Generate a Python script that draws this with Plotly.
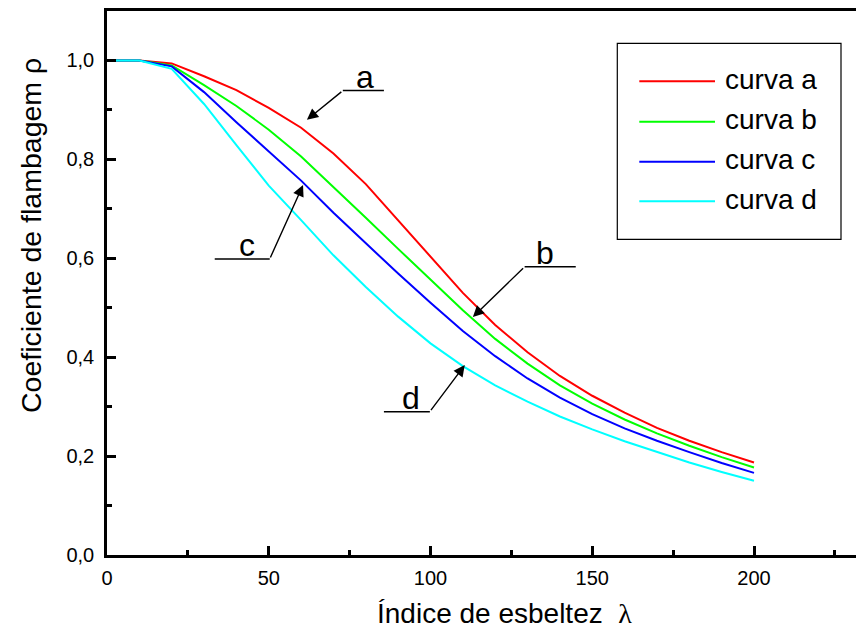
import plotly.graph_objects as go

# ---- data ----
lam = [0, 10, 20, 30, 40, 50, 60, 70, 80, 90, 100, 110, 120, 130, 140, 150, 160, 170, 180, 190, 200]
curva_a = [1.0, 1.0, 0.994, 0.968, 0.940, 0.904, 0.864, 0.812, 0.750, 0.676, 0.602, 0.530, 0.465, 0.410,
           0.362, 0.322, 0.288, 0.257, 0.231, 0.208, 0.187]
curva_b = [1.0, 1.0, 0.990, 0.950, 0.908, 0.860, 0.806, 0.745, 0.682, 0.619, 0.557, 0.495, 0.437, 0.387,
           0.343, 0.306, 0.274, 0.246, 0.221, 0.198, 0.177]
curva_c = [1.0, 1.0, 0.988, 0.936, 0.875, 0.817, 0.757, 0.692, 0.630, 0.569, 0.510, 0.453, 0.402, 0.357,
           0.318, 0.285, 0.256, 0.231, 0.208, 0.186, 0.166]
curva_d = [1.0, 1.0, 0.983, 0.912, 0.829, 0.747, 0.677, 0.606, 0.542, 0.482, 0.428, 0.382, 0.343, 0.310,
           0.280, 0.254, 0.230, 0.208, 0.187, 0.168, 0.150]

series_names = ["curva a", "curva b", "curva c", "curva d"]
series_values = [curva_a, curva_b, curva_c, curva_d]
series_colors = ["#FF0000", "#00FF00", "#0000FF", "#00FFFF"]

x_ticks = [0, 50, 100, 150, 200]
y_ticks = [0.0, 0.2, 0.4, 0.6, 0.8, 1.0]

# curve labels: letter, text pos, underline (x0,x1,y), arrow tail -> head
curve_labels = [
    ("a", (79.7, 0.939), (72.9, 85.6, 0.939), (72.9, 0.939), (61.8, 0.880)),
    ("c", (43.3, 0.5986), (33.3, 50.3, 0.5986), (50.3, 0.5986), (60.6, 0.748)),
    ("b", (135.3, 0.583), (129.1, 144.9, 0.583), (129.1, 0.583), (113.1, 0.481)),
    ("d", (94.1, 0.2898), (85.6, 99.8, 0.2898), (99.8, 0.2898), (110.6, 0.384)),
]

FONT = "Liberation Sans, Arial, sans-serif"

fig = go.Figure()
for name, vals, col in zip(series_names, series_values, series_colors):
    fig.add_trace(go.Scatter(x=lam, y=vals, mode="lines", name=name,
                             line=dict(color=col, width=2), showlegend=False))

# plot geometry (pixels)
L, R, T, B = 107, 856, 11, 555
W, H = 856, 634

def px(xp):
    return (xp - L) / (R - L)

def py(yp):
    return (B - yp) / (B - T)

shapes = []
annotations = []

# curve labels with underline and arrow
for letter, tpos, ul, tail, head in curve_labels:
    shapes.append(dict(type="line", xref="x", yref="y", x0=ul[0], x1=ul[1], y0=ul[2], y1=ul[2],
                       line=dict(color="black", width=1.5)))
    annotations.append(dict(x=tpos[0], y=tpos[1], xref="x", yref="y", text=letter, showarrow=False,
                            xanchor="center", yanchor="bottom", yshift=-6,
                            font=dict(family=FONT, size=32, color="black")))
    annotations.append(dict(x=head[0], y=head[1], xref="x", yref="y", ax=tail[0], ay=tail[1],
                            axref="x", ayref="y", text="", showarrow=True, arrowhead=2,
                            arrowsize=1.6, arrowwidth=1.4, arrowcolor="black", standoff=0))

# custom legend (box + sample lines + labels)
shapes.append(dict(type="rect", xref="paper", yref="paper", x0=px(617.3), x1=px(841), y0=py(239.3), y1=py(43.3),
                   line=dict(color="black", width=1.2), fillcolor="white", layer="below"))
leg_rows = [81.3, 121.7, 161.7, 201.3]
for name, col, yr in zip(series_names, series_colors, leg_rows):
    shapes.append(dict(type="line", xref="paper", yref="paper", x0=px(639.3), x1=px(715), y0=py(yr), y1=py(yr),
                       line=dict(color=col, width=2)))
    annotations.append(dict(x=px(723), y=py(yr), xref="paper", yref="paper", text=name, showarrow=False,
                            xanchor="left", yanchor="middle", yshift=2,
                            font=dict(family=FONT, size=28, color="black")))

# axis titles
annotations.append(dict(x=px(31), y=py(236), xref="paper", yref="paper", textangle=-90,
                        text="Coeficiente de flambagem ρ", showarrow=False,
                        xanchor="center", yanchor="middle", font=dict(family=FONT, size=28.5, color="black")))
annotations.append(dict(x=px(504), y=py(613), xref="paper", yref="paper",
                        text="Índice de esbeltez\u00a0\u00a0<span style=\"font-family:'Liberation Serif', serif\">λ</span>",
                        showarrow=False, xanchor="center", yanchor="middle",
                        font=dict(family=FONT, size=28, color="black")))

x_max = 200 * (R - L) / (754.3 - 107.3)

fig.update_layout(
    width=W, height=H,
    margin=dict(l=L, r=W - R, t=T, b=H - B, pad=0),
    paper_bgcolor="white", plot_bgcolor="white",
    separators=",.",
    shapes=shapes, annotations=annotations,
    showlegend=False,
    font=dict(family=FONT, color="black"),
)
fig.update_xaxes(range=[0, x_max], tickmode="linear", tick0=0, dtick=50, showgrid=False, zeroline=False,
                 showline=True, linecolor="black", linewidth=2.5, mirror=True,
                 ticks="inside", ticklen=9, tickwidth=2.5, tickcolor="black",
                 minor=dict(dtick=25, tick0=0, ticks="inside", ticklen=5, tickwidth=2.5, tickcolor="black",
                            showgrid=False),
                 tickfont=dict(family=FONT, size=20, color="black"), ticklabelstandoff=3)
fig.update_yaxes(range=[0, 1.1], tickmode="linear", tick0=0, dtick=0.2, tickformat=".1f", showgrid=False,
                 zeroline=False, showline=True, linecolor="black", linewidth=2.5, mirror=False,
                 ticks="inside", ticklen=9, tickwidth=2.5, tickcolor="black",
                 minor=dict(dtick=0.1, tick0=0, ticks="inside", ticklen=5, tickwidth=2.5, tickcolor="black",
                            showgrid=False),
                 tickfont=dict(family=FONT, size=20, color="black"), ticklabelstandoff=6)

fig.write_html("out.html")
